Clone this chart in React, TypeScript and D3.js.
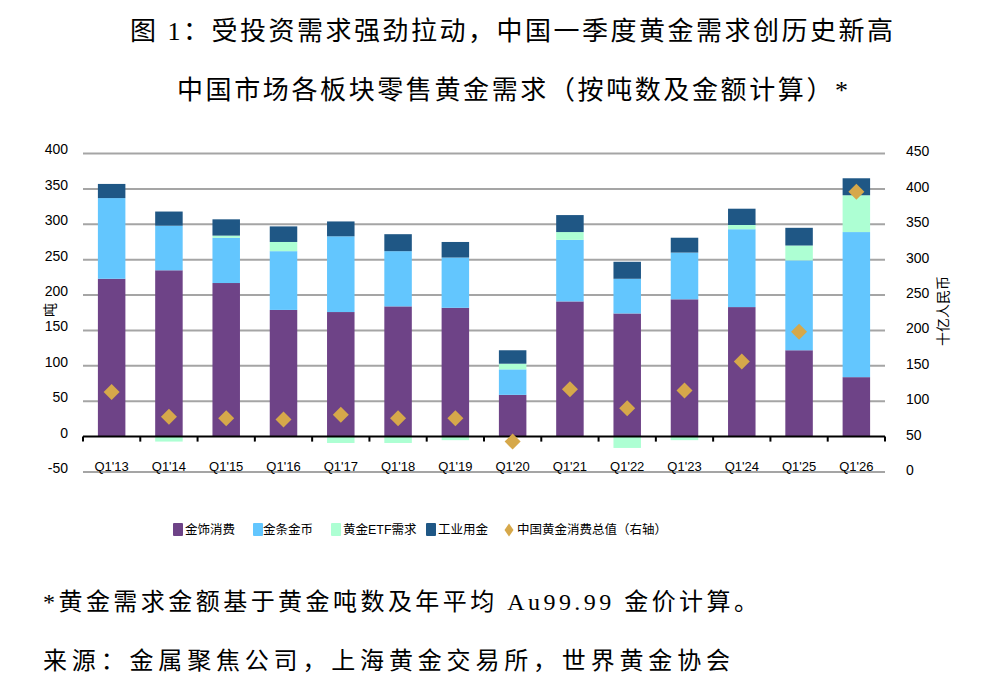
import React from 'react';
import * as d3 from 'd3';

// 中国市场各板块零售黄金需求（吨）
const categories = ["Q1'13", "Q1'14", "Q1'15", "Q1'16", "Q1'17", "Q1'18", "Q1'19", "Q1'20", "Q1'21", "Q1'22", "Q1'23", "Q1'24", "Q1'25", "Q1'26"];
const jewelry = [223, 235, 217, 179, 176, 184, 182, 59, 191, 174, 194, 183, 122, 84];
const barCoin = [114, 63, 64, 83, 107, 78, 71, 36, 87, 49, 66, 110, 127, 205];
const etf = [0, -7, 3, 13, -9, -9, -5, 8, 11, -16, -5, 6, 21, 52];
const industrial = [20, 20, 23, 22, 21, 24, 22, 19, 24, 24, 21, 23, 25, 24];
// 中国黄金消费总值（十亿人民币，右轴）
const totalValue = [113, 78, 76, 74, 81, 76, 76, 43, 117, 90, 115, 156, 198, 396];

const leftTicks = [-50, 0, 50, 100, 150, 200, 250, 300, 350, 400];
const rightTicks = [0, 50, 100, 150, 200, 250, 300, 350, 400, 450];

const seriesKeys = ['jewelry', 'barCoin', 'etf', 'industrial'];
const seriesNames = ['金饰消费', '金条金币', '黄金ETF需求', '工业用金'];
const seriesColors = ['#6E4387', '#63C6FE', '#ADFFD3', '#1F5785'];
const valueName = '中国黄金消费总值（右轴）';
const gold = '#D6A84A';

const sans = '"Liberation Sans", "Noto Sans CJK SC", sans-serif';
const serif = '"Liberation Serif", "Noto Sans CJK SC", serif';

export default function App() {
  const width = 981;
  const height = 684;

  const x = d3.scaleBand().domain(categories).range([83, 885]).paddingInner(0.52).paddingOuter(0.26);
  const step = x.step();
  const y = d3.scaleLinear().domain([-50, 400]).range([472, 153.5]);
  const yR = d3.scaleLinear().domain([0, 450]).range([472, 153.5]);

  const rows = categories.map((c, i) => ({
    cat: c,
    jewelry: jewelry[i],
    barCoin: barCoin[i],
    etf: etf[i],
    industrial: industrial[i],
  }));
  const stacked = d3.stack<any>().keys(seriesKeys).offset(d3.stackOffsetDiverging)(rows);

  const legendX = [173, 253, 331, 426];
  const legendTextX = [185, 263, 343, 438];

  return (
    <div style={{ position: 'absolute', left: 0, top: 0 }}>
      <svg width={width} height={height} style={{ display: 'block', background: '#fff' }}>
        {/* titles */}
        <text x={130} y={40} fontFamily={serif} fontSize={26} textLength={763} lengthAdjust="spacing" fill="#000">
          图 1：受投资需求强劲拉动，中国一季度黄金需求创历史新高
        </text>
        <text x={177} y={98.5} fontFamily={serif} fontSize={26} textLength={671} lengthAdjust="spacing" fill="#000">
          中国市场各板块零售黄金需求（按吨数及金额计算）*
        </text>

        {/* gridlines */}
        {leftTicks.filter((t) => t !== 0).map((t) => (
          <line key={t} x1={83} x2={885} y1={y(t)} y2={y(t)} stroke="#A5A5A5" strokeWidth={2} />
        ))}

        {/* stacked bars */}
        {stacked.map((s, si) => (
          <g key={s.key} fill={seriesColors[si]}>
            {s.map((d: any, i: number) => {
              const top = Math.min(y(d[0]), y(d[1]));
              const h = Math.abs(y(d[0]) - y(d[1]));
              if (h < 0.01) return null;
              return <rect key={i} x={x(categories[i])} y={top} width={x.bandwidth()} height={h} />;
            })}
          </g>
        ))}

        {/* zero axis */}
        <line x1={83} x2={885} y1={y(0)} y2={y(0)} stroke="#000" strokeWidth={2} />
        {d3.range(categories.length + 1).map((i) => {
          const tx = 83 + i * step;
          return <line key={i} x1={tx} x2={tx} y1={y(0)} y2={y(0) + 5} stroke="#000" strokeWidth={2} />;
        })}

        {/* value diamonds */}
        {totalValue.map((v, i) => {
          const cx = (x(categories[i]) as number) + x.bandwidth() / 2;
          const cy = yR(v);
          return <path key={i} d={`M${cx},${cy - 8}L${cx + 8},${cy}L${cx},${cy + 8}L${cx - 8},${cy}Z`} fill={gold} />;
        })}

        {/* left axis labels */}
        {leftTicks.map((t) => (
          <text key={t} x={68} y={y(t) - 4} dy="0.35em" textAnchor="end" fontFamily={sans} fontSize={14} fill="#000">
            {t}
          </text>
        ))}
        {/* right axis labels */}
        {rightTicks.map((t) => (
          <text key={t} x={906} y={yR(t) - 2} dy="0.35em" textAnchor="start" fontFamily={sans} fontSize={14} fill="#000">
            {t}
          </text>
        ))}
        {/* x labels */}
        {categories.map((c) => (
          <text key={c} x={(x(c) as number) + x.bandwidth() / 2} y={466} dy="0.35em" textAnchor="middle" fontFamily={sans} fontSize={13} fill="#000">
            {c}
          </text>
        ))}

        {/* axis titles */}
        <text transform="translate(50,310) rotate(-90)" textAnchor="middle" dy="0.35em" fontFamily={sans} fontSize={14} fill="#000">
          吨
        </text>
        <text transform="translate(943,311) rotate(-90)" textAnchor="middle" dy="0.35em" fontFamily={sans} fontSize={14} fill="#000">
          十亿人民币
        </text>

        {/* legend */}
        {seriesNames.map((n, i) => (
          <g key={n}>
            <rect x={legendX[i]} y={523} width={10} height={13} rx={1} fill={seriesColors[i]} />
            <text x={legendTextX[i]} y={530} dy="0.35em" fontFamily={sans} fontSize={12.5} fill="#000">
              {n}
            </text>
          </g>
        ))}
        <path d="M509,523.5L513.5,530L509,536.5L504.5,530Z" fill={gold} />
        <text x={517} y={530} dy="0.35em" fontFamily={sans} fontSize={12.5} fill="#000">
          {valueName}
        </text>

        {/* footnotes */}
        <text x={43} y={610} fontFamily={serif} fontSize={24} textLength={715} lengthAdjust="spacing" fill="#000">
          *黄金需求金额基于黄金吨数及年平均 Au99.99 金价计算。
        </text>
        <text x={43} y={669} fontFamily={serif} fontSize={24} textLength={687} lengthAdjust="spacing" fill="#000">
          来源：金属聚焦公司，上海黄金交易所，世界黄金协会
        </text>
      </svg>
    </div>
  );
}
